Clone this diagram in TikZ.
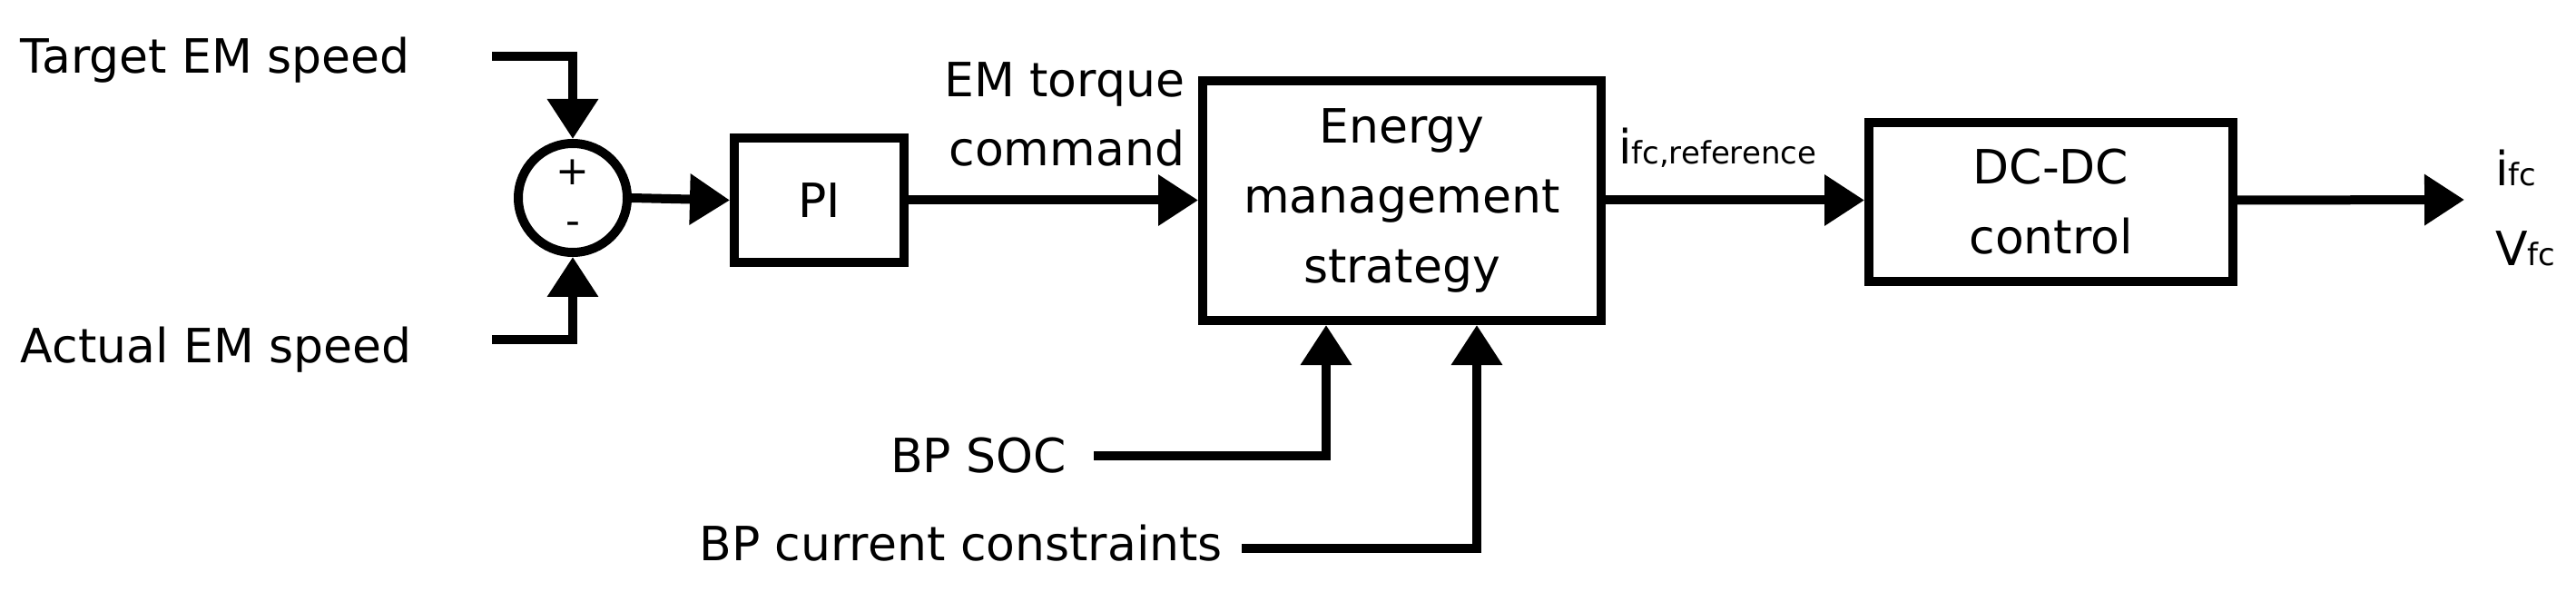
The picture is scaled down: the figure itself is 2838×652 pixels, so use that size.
\documentclass[tikz,border=0pt]{standalone}
\usepackage{fontspec}
\setmainfont{DejaVu Sans}
\usetikzlibrary{arrows.meta}
\begin{document}
\begin{tikzpicture}[x=1pt,y=-1pt,
  line width=10pt,
  txt/.style={font=\fontsize{52}{60}\selectfont, inner sep=0pt},
  blk/.style={draw, line width=10pt, inner sep=0pt},
  arr/.style={-{Triangle[length=44pt,width=54pt]}},
  sub/.style={}]
\newcommand{\sbs}[1]{{\fontsize{34}{40}\selectfont #1}}
\useasboundingbox (0,0) rectangle (2838,652);
% nodes
\node[blk, circle, minimum size=120pt] (sum) at (631,218) {};
\node[font=\fontsize{44}{44}\selectfont] at (631,190) {+};
\node[font=\fontsize{44}{44}\selectfont] at (631,252) {-};
\node[blk, minimum width=187pt, minimum height=137pt] (pi) at (902.5,220.5) {};
\node[txt] at (902.5,220.5) {PI};
\node[blk, minimum width=439pt, minimum height=264pt] (ems) at (1544.5,221) {};
\node[txt, align=center, font=\fontsize{52}{77}\selectfont] at (1544.5,221) {Energy\\management\\strategy};
\node[blk, minimum width=401pt, minimum height=175pt] (dc) at (2259.5,222.5) {};
\node[txt, align=center, font=\fontsize{52}{77}\selectfont] at (2259.5,222.5) {DC-DC\\control};
% texts
\node[txt, anchor=base west] (tgt) at (18,81) {Target EM speed};
\node[txt, anchor=base west] (act) at (18,399) {Actual EM speed};
\node[txt, anchor=base east, align=right] at (1310,107) {EM torque};
\node[txt, anchor=base east] at (1310,183) {command};
\node[txt, anchor=base east] (soc) at (1180,520) {BP SOC};
\node[txt, anchor=base east] (cur) at (1352,617) {BP current constraints};
\node[txt, anchor=base west] at (1778,181) {i\sbs{fc,reference}};
\node[txt, anchor=base west] at (2744,205) {i\sbs{fc}};
\node[txt, anchor=base west] at (2744,293) {V\sbs{fc}};
% coordinates
\coordinate (t0) at (542,62);
\coordinate (a0) at (542,374);
\coordinate (s0) at (1205,502);
\coordinate (c0) at (1368,604);
\coordinate (out) at (2715,220);
% connectors
\draw[arr] (t0) -| (sum.north);
\draw[arr] (a0) -| (sum.south);
\draw[arr] (sum.east) -- (pi.west);
\draw[arr] (pi.east) -- (ems.west |- pi.east);
\draw[arr] (ems.east |- pi.east) -- (dc.west |- pi.east);
\draw[arr] (dc.east |- pi.east) -- (out);
\draw[arr] (s0) -| (1461,0 |- ems.south);
\draw[arr] (c0) -| (1627,0 |- ems.south);
\end{tikzpicture}
\end{document}
